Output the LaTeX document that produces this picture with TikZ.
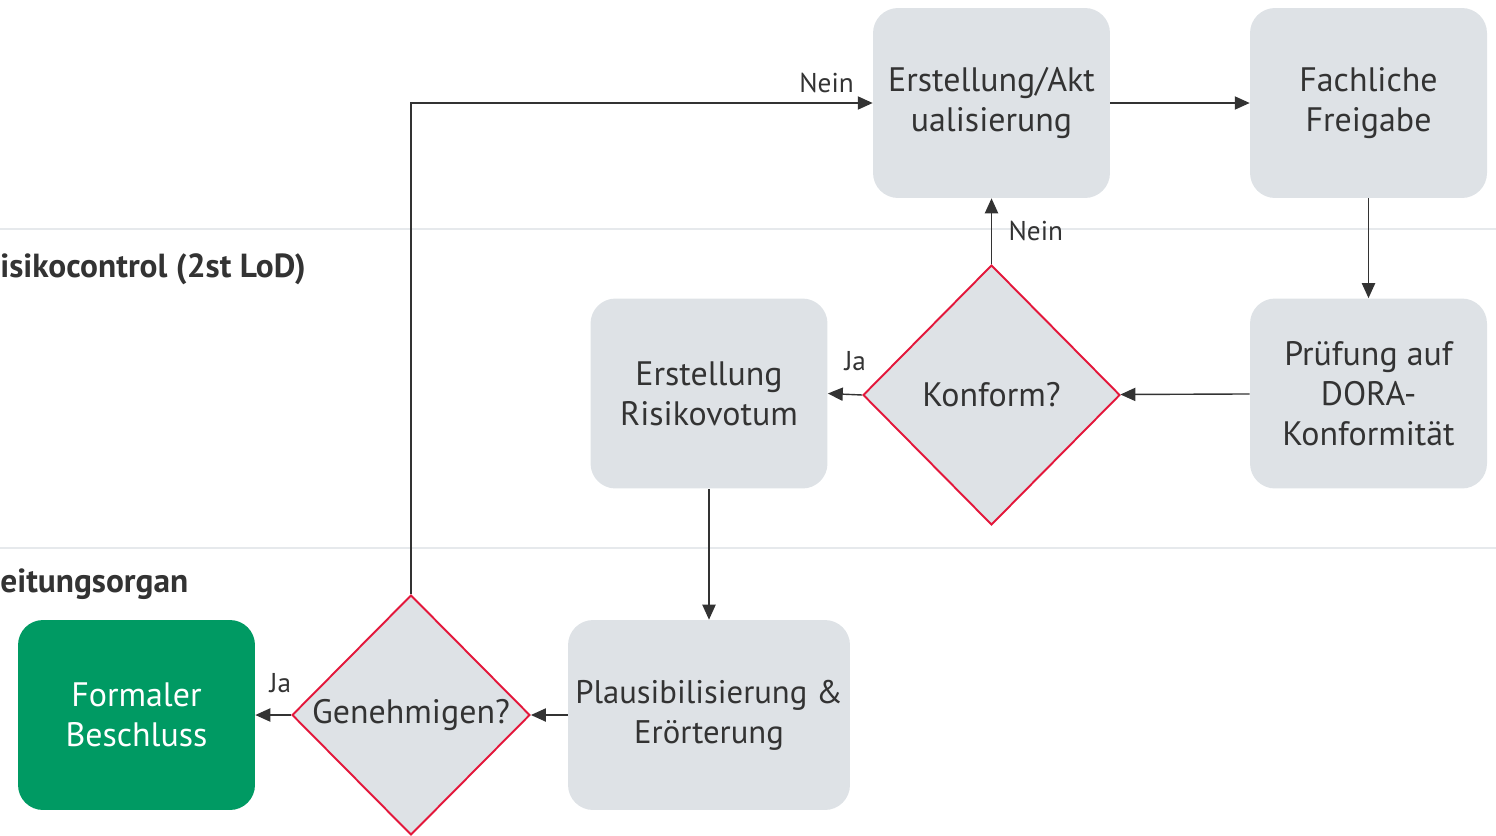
\documentclass[tikz,border=0pt]{standalone}
\usepackage{fontspec}
\setmainfont{PT Sans}
\usetikzlibrary{shapes.geometric,arrows.meta}
\definecolor{boxgrey}{HTML}{DEE2E6}
\definecolor{inkgrey}{HTML}{333333}
\definecolor{lanegrey}{HTML}{E6E9EC}
\definecolor{checkred}{HTML}{E3173B}
\definecolor{okgreen}{HTML}{009A63}
\tikzset{
  stepbox/.style={rectangle, rounded corners=0.5cm, fill=boxgrey, text=inkgrey,
    minimum width=4.74cm, minimum height=3.8cm, align=center,
    font=\fontsize{19.3}{22.7}\selectfont},
  decision/.style={diamond, fill=boxgrey, draw=checkred, line width=1.1pt,
    text=inkgrey, inner sep=0pt, align=center,
    font=\fontsize{19.3}{22.7}\selectfont},
  flow/.style={draw=inkgrey, line width=0.8pt, -{Triangle[length=8.5pt,width=7.5pt]}},
  flowlabel/.style={text=inkgrey, font=\fontsize{15.5}{18}\selectfont},
  lanetitle/.style={text=inkgrey, anchor=west, inner sep=0pt,
    font=\fontsize{19}{22}\selectfont\bfseries},
}

\begin{document}
\begin{tikzpicture}[x=0.02cm,y=-0.02cm]
\useasboundingbox (0,0) rectangle (1496,835);
% lanes
\draw[lanegrey, line width=1.3pt] (0,229) -- (1496,229);
\draw[lanegrey, line width=1.3pt] (0,548) -- (1496,548);
\node[lanetitle] (lane2) at (0,269) {isikocontrol (2st LoD)};
\node[lanetitle] (lane3) at (0,584) {eitungsorgan};

% steps
\node[stepbox] (erstellung) at (991.5,103) {Erstellung/Akt\\ualisierung};
\node[stepbox] (freigabe) at (1368.5,103) {Fachliche\\Freigabe};
\node[stepbox] (pruefung) at (1368.5,393.5) {Prüfung auf\\DORA-\\Konformität};
\node[decision, minimum width=5.14cm, minimum height=5.2cm] (konform) at (991.5,395) {Konform?};
\node[stepbox] (votum) at (709,393.5) {Erstellung\\Risikovotum};
\node[stepbox, minimum width=5.64cm, inner xsep=0pt, font=\fontsize{18.6}{22.7}\selectfont] (plausi) at (709,715) {Plausibilisierung \&\\Erörterung};
\node[decision, minimum width=4.76cm, minimum height=4.8cm] (genehmigen) at (411,715) {Genehmigen?};
\node[stepbox, fill=okgreen, text=white] (beschluss) at (136.5,715) {Formaler\\Beschluss};

% connectors
\draw[flow] (erstellung) -- (freigabe);
\draw[flow] (freigabe) -- (pruefung);
\draw[flow] (pruefung) -- (konform);
\draw[flow] (konform.west) -- node[flowlabel, pos=0.2, above, yshift=10pt] {Ja} (votum.east);
\draw[flow] (konform.north) -- node[flowlabel, midway, right, xshift=6pt] {Nein} (erstellung.south);
\draw[flow] (votum) -- (plausi);
\draw[flow] (plausi.west) -- (genehmigen.east);
\draw[flow] (genehmigen.west) -- node[flowlabel, pos=0.3, above, yshift=9pt] {Ja} (beschluss.east);
\draw[flow] (genehmigen.north) |- node[flowlabel, pos=0.95, above, yshift=2pt] {Nein} (erstellung.west);
\end{tikzpicture}
\end{document}
